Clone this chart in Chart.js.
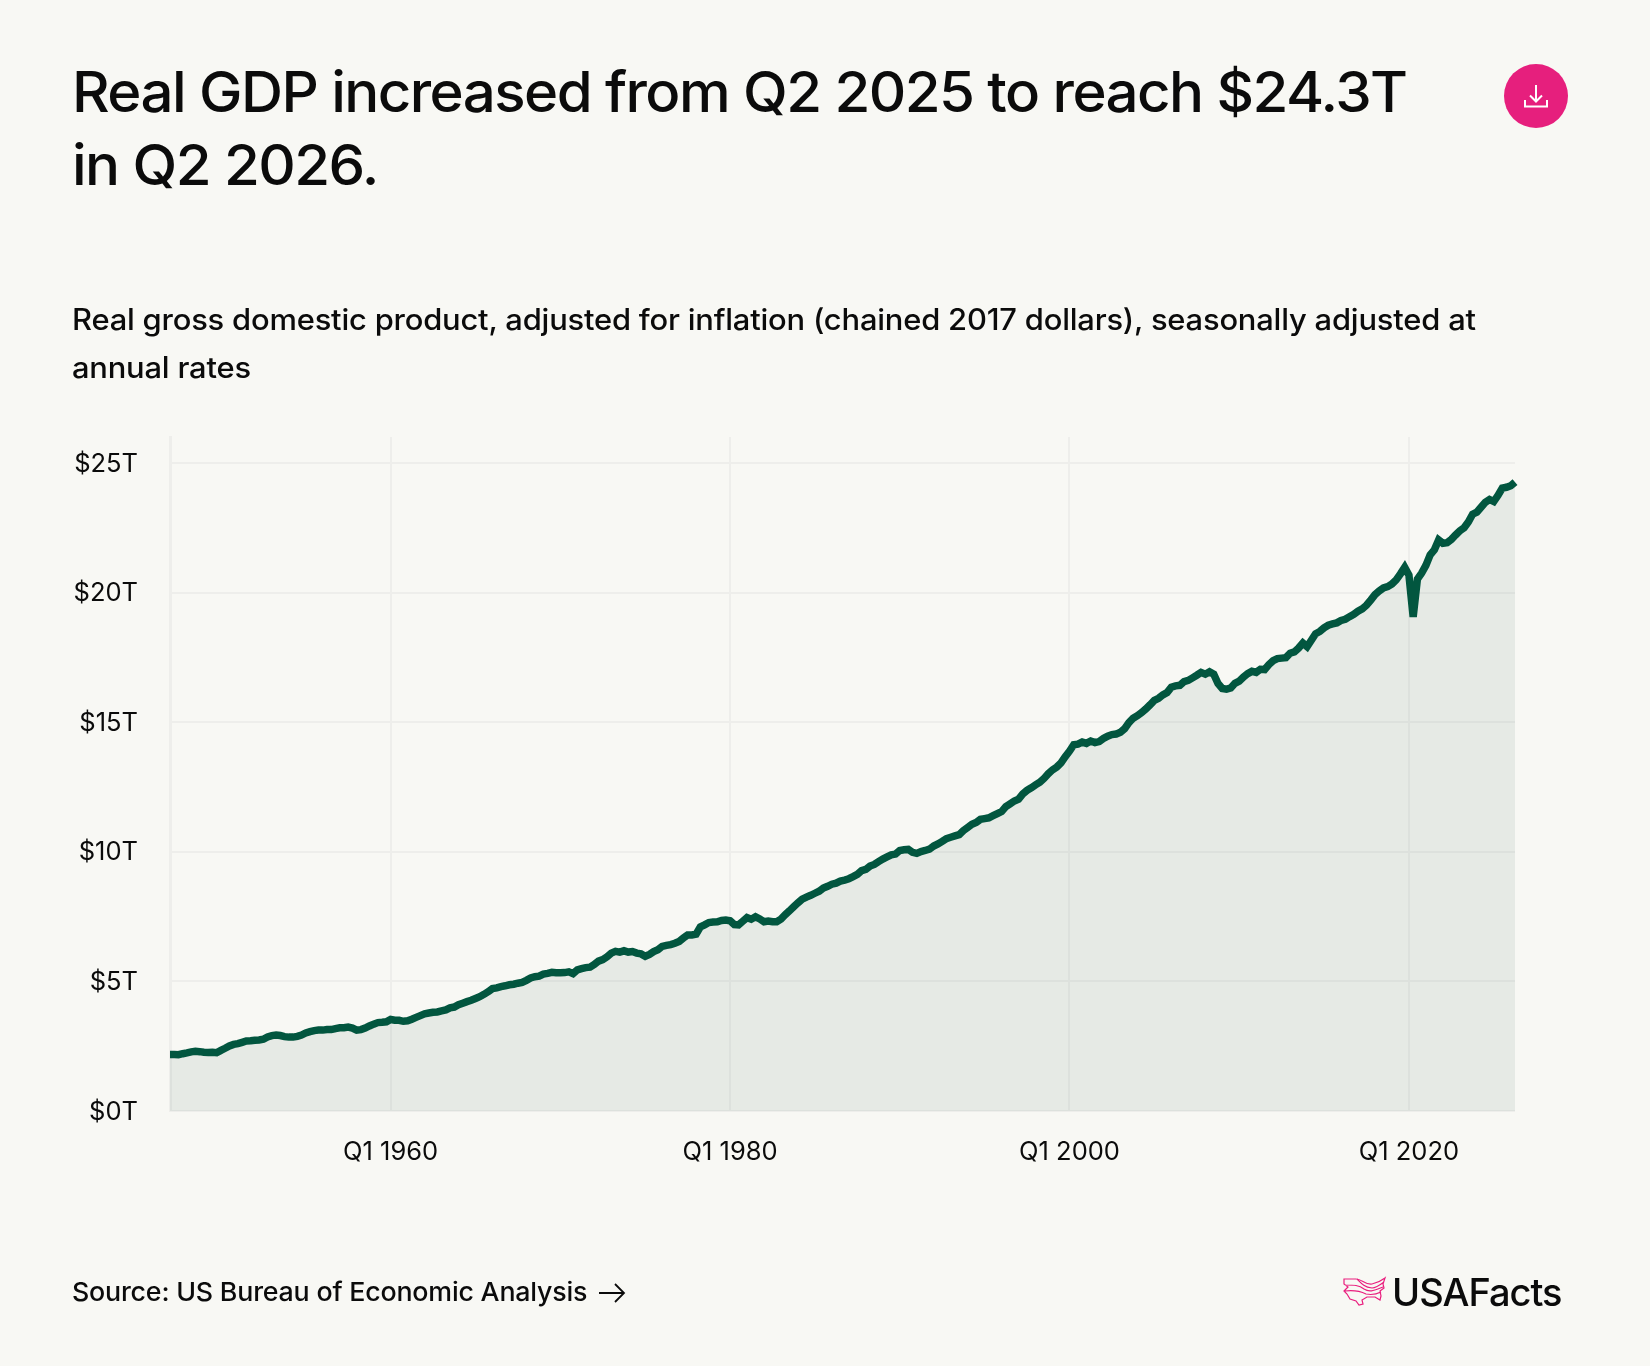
<!DOCTYPE html>
<html>
<head>
<meta charset="utf-8">
<title>Real GDP</title>
<script src="https://cdn.jsdelivr.net/npm/chart.js@4"></script>
<style>
  html, body { margin: 0; padding: 0; background: #f8f8f4; }
  body { width: 1650px; height: 1366px; position: relative; overflow: hidden; font-family: Inter, sans-serif; color: #0b0b0b; }
  #myChart { position: absolute; left: 0; top: 0; }
  .title, .subtitle, .source { transform-origin: left top; white-space: nowrap; }
  .title { position: absolute; left: 72px; top: 56px; font-size: 56px; line-height: 73px; font-weight: 550; letter-spacing: -1.5px; transform: scaleX(1.039); }
  .subtitle { position: absolute; left: 72px; top: 295px; font-size: 29.5px; line-height: 48px; font-weight: 500; letter-spacing: -0.2px; transform: scaleX(1.048); }
  .source { position: absolute; left: 72px; top: 1276px; font-size: 26px; line-height: 32px; font-weight: 500; letter-spacing: -0.2px; transform: scaleX(1.03); }
  .logo-text { position: absolute; left: 1392px; top: 1269px; font-size: 38px; line-height: 46px; font-weight: 500; letter-spacing: -1px; }
  svg { position: absolute; }
</style>
</head>
<body>
<canvas id="myChart" width="1650" height="1366"></canvas>

<div class="title">Real GDP increased from Q2 2025 to reach $24.3T<br>in Q2 2026.</div>
<div class="subtitle">Real gross domestic product, adjusted for inflation (chained 2017 dollars), seasonally adjusted at<br>annual rates</div>
<div class="source">Source: US Bureau of Economic Analysis</div>
<div class="logo-text">USAFacts</div>

<!-- download button -->
<svg style="left:1504px;top:64px" width="64" height="64" viewBox="0 0 64 64">
  <circle cx="32" cy="32" r="32" fill="#e61f7d"/>
  <path d="M32 21V37M26 31.5L32 37.5L38 31.5M21 36V42.5H43V36" fill="none" stroke="#fff" stroke-width="2"/>
</svg>

<!-- source arrow -->
<svg style="left:598px;top:1280px" width="30" height="26" viewBox="0 0 30 26">
  <path d="M1 13H26M17 4L26 13L17 22" fill="none" stroke="#0b0b0b" stroke-width="1.8"/>
</svg>

<!-- logo mark -->
<svg style="left:1342px;top:1276px" width="46" height="32" viewBox="0 0 46 32">
  <path d="M2 3H14C20 3 23 9 30 8C35 7 39 5 43 2L41 8L42 12L38 15L39 20L38 24L33 21L25 21L20 24L21 28L17 29L14 25L8 23L5 18L2 15L6 11L2 8Z M3 9C12 9 17 9 22 13C28 17 33 14 41 11 M3 15C12 14 18 15 24 18C29 19 33 19 39 16 M15 3C19 7 22 11 30 12C34 12 38 9 42 6" fill="none" stroke="#e91e7e" stroke-width="1.2"/>
</svg>

<script>
// real gdp in trillions, one list per stretch of years, four values a year
const gdp1947to1959 = [
    2.18, 2.18, 2.17, 2.21, 2.24, 2.28, 2.30, 2.29, 2.27, 2.26, 2.27, 2.25,
    2.34, 2.42, 2.51, 2.57, 2.60, 2.65, 2.70, 2.71, 2.73, 2.74, 2.77, 2.86,
    2.91, 2.93, 2.91, 2.87, 2.85, 2.85, 2.88, 2.93, 3.01, 3.06, 3.10, 3.12,
    3.12, 3.14, 3.14, 3.18, 3.21, 3.21, 3.24, 3.20, 3.12, 3.14, 3.20, 3.28,
    3.35, 3.41, 3.42, 3.44
];
const gdp1960to1979 = [
    3.53, 3.50, 3.50, 3.46, 3.48, 3.54, 3.61, 3.68, 3.75, 3.78, 3.81, 3.82,
    3.86, 3.90, 3.98, 4.01, 4.10, 4.16, 4.22, 4.27, 4.34, 4.41, 4.50, 4.60,
    4.72, 4.75, 4.80, 4.83, 4.87, 4.89, 4.93, 4.96, 5.04, 5.13, 5.18, 5.20,
    5.28, 5.31, 5.35, 5.33, 5.33, 5.34, 5.37, 5.30, 5.44, 5.49, 5.53, 5.55,
    5.65, 5.78, 5.84, 5.95, 6.09, 6.16, 6.13, 6.18, 6.13, 6.15, 6.09, 6.06,
    5.97, 6.04, 6.15, 6.22, 6.35, 6.39, 6.42, 6.47, 6.54, 6.67, 6.79, 6.79,
    6.82, 7.10, 7.18, 7.27, 7.29, 7.30, 7.35, 7.37
];
const gdp1980to1999 = [
    7.34, 7.19, 7.18, 7.32, 7.46, 7.40, 7.49, 7.41, 7.30, 7.33, 7.30, 7.30,
    7.40, 7.57, 7.72, 7.88, 8.03, 8.17, 8.25, 8.32, 8.40, 8.48, 8.60, 8.67,
    8.75, 8.79, 8.87, 8.91, 8.96, 9.04, 9.13, 9.27, 9.32, 9.45, 9.51, 9.62,
    9.72, 9.80, 9.88, 9.91, 10.05, 10.08, 10.09, 9.98, 9.94, 10.01, 10.05, 10.10,
    10.22, 10.30, 10.40, 10.51, 10.56, 10.61, 10.66, 10.82, 10.94, 11.06, 11.13, 11.25,
    11.28, 11.31, 11.39, 11.47, 11.55, 11.74, 11.85, 11.96, 12.03, 12.23, 12.37, 12.47,
    12.58, 12.68, 12.83, 13.01, 13.16, 13.27, 13.43, 13.67
];
const gdp2000to2019 = [
    13.88, 14.13, 14.15, 14.23, 14.18, 14.27, 14.21, 14.25, 14.37, 14.46, 14.52, 14.54,
    14.61, 14.75, 14.98, 15.15, 15.25, 15.37, 15.51, 15.67, 15.84, 15.92, 16.05, 16.14,
    16.35, 16.40, 16.42, 16.56, 16.61, 16.71, 16.81, 16.92, 16.85, 16.94, 16.85, 16.49,
    16.30, 16.27, 16.32, 16.50, 16.58, 16.74, 16.87, 16.96, 16.92, 17.04, 17.03, 17.22,
    17.37, 17.45, 17.47, 17.49, 17.66, 17.71, 17.86, 18.05, 17.91, 18.16, 18.41, 18.50,
    18.64, 18.74, 18.79, 18.83, 18.92, 18.97, 19.07, 19.16, 19.28, 19.37, 19.51, 19.71,
    19.92, 20.06, 20.18, 20.23, 20.33, 20.49, 20.72, 20.97
];
const gdp2020to2026 = [
    20.67, 19.06, 20.52, 20.75, 21.05, 21.45, 21.65, 22.03, 21.90, 21.92, 22.05, 22.22,
    22.38, 22.50, 22.72, 23.02, 23.10, 23.29, 23.48, 23.59, 23.51, 23.75, 24.03, 24.06,
    24.12, 24.26
];
const gdpValues = [...gdp1947to1959, ...gdp1960to1979, ...gdp1980to1999, ...gdp2000to2019, ...gdp2020to2026];

const xTickLabels = ['Q1 1960', 'Q1 1980', 'Q1 2000', 'Q1 2020'];
const yTicks = [0, 5, 10, 15, 20, 25];

// one label per quarter from Q1 1947 on
const quarters = gdpValues.map((v, i) => 'Q' + (i % 4 + 1) + ' ' + (1947 + Math.floor(i / 4)));

const axisFont = { family: 'Inter, sans-serif', size: 25.5, weight: '400' };
const gridColor = '#eeeeeb';

// the covid dip needs a cut off join, not a long spike
const miterPlugin = {
    id: 'miterPlugin',
    beforeDatasetsDraw: chart => { chart.ctx.miterLimit = 4; }
};

const ctx = document.getElementById('myChart').getContext('2d');

const myChart = new Chart(ctx, {
    type: 'line',
    plugins: [miterPlugin],
    data: {
        labels: quarters,
        datasets: [{
            label: 'Real GDP',
            data: gdpValues,
            borderColor: '#02563f',
            borderWidth: 7.5,
            fill: true,
            backgroundColor: 'rgba(2, 60, 40, 0.07)',
            pointRadius: 0,
            tension: 0,
            clip: false
        }]
    },
    options: {
        responsive: false,
        animation: false,
        devicePixelRatio: 1,
        // plot box runs 170-1515 across and 437-1111 down
        layout: { padding: { left: 70, right: 135, top: 437, bottom: 195 } },
        plugins: { legend: { display: false }, tooltip: { enabled: false } },
        scales: {
            x: {
                type: 'category',
                offset: false,
                afterFit: scale => { scale.height = 60; },
                afterBuildTicks: scale => {
                    scale.ticks = scale.ticks.filter(t => xTickLabels.includes(quarters[t.value]));
                },
                grid: { color: gridColor, lineWidth: 2, drawTicks: false },
                border: { display: false },
                ticks: {
                    autoSkip: false,
                    maxRotation: 0,
                    padding: 26,
                    color: '#0b0b0b',
                    font: axisFont,
                    callback: function (value) { return quarters[value]; }
                }
            },
            y: {
                min: 0,
                max: 26,
                afterFit: scale => { scale.width = 100; },
                afterBuildTicks: scale => { scale.ticks = yTicks.map(v => ({ value: v })); },
                grid: { color: gridColor, lineWidth: 2, drawTicks: false },
                border: { display: true, color: gridColor, width: 3 },
                ticks: {
                    padding: 32,
                    labelOffset: 1,
                    color: '#0b0b0b',
                    font: axisFont,
                    callback: value => '$' + value + 'T'
                }
            }
        }
    }
});
</script>
</body>
</html>
